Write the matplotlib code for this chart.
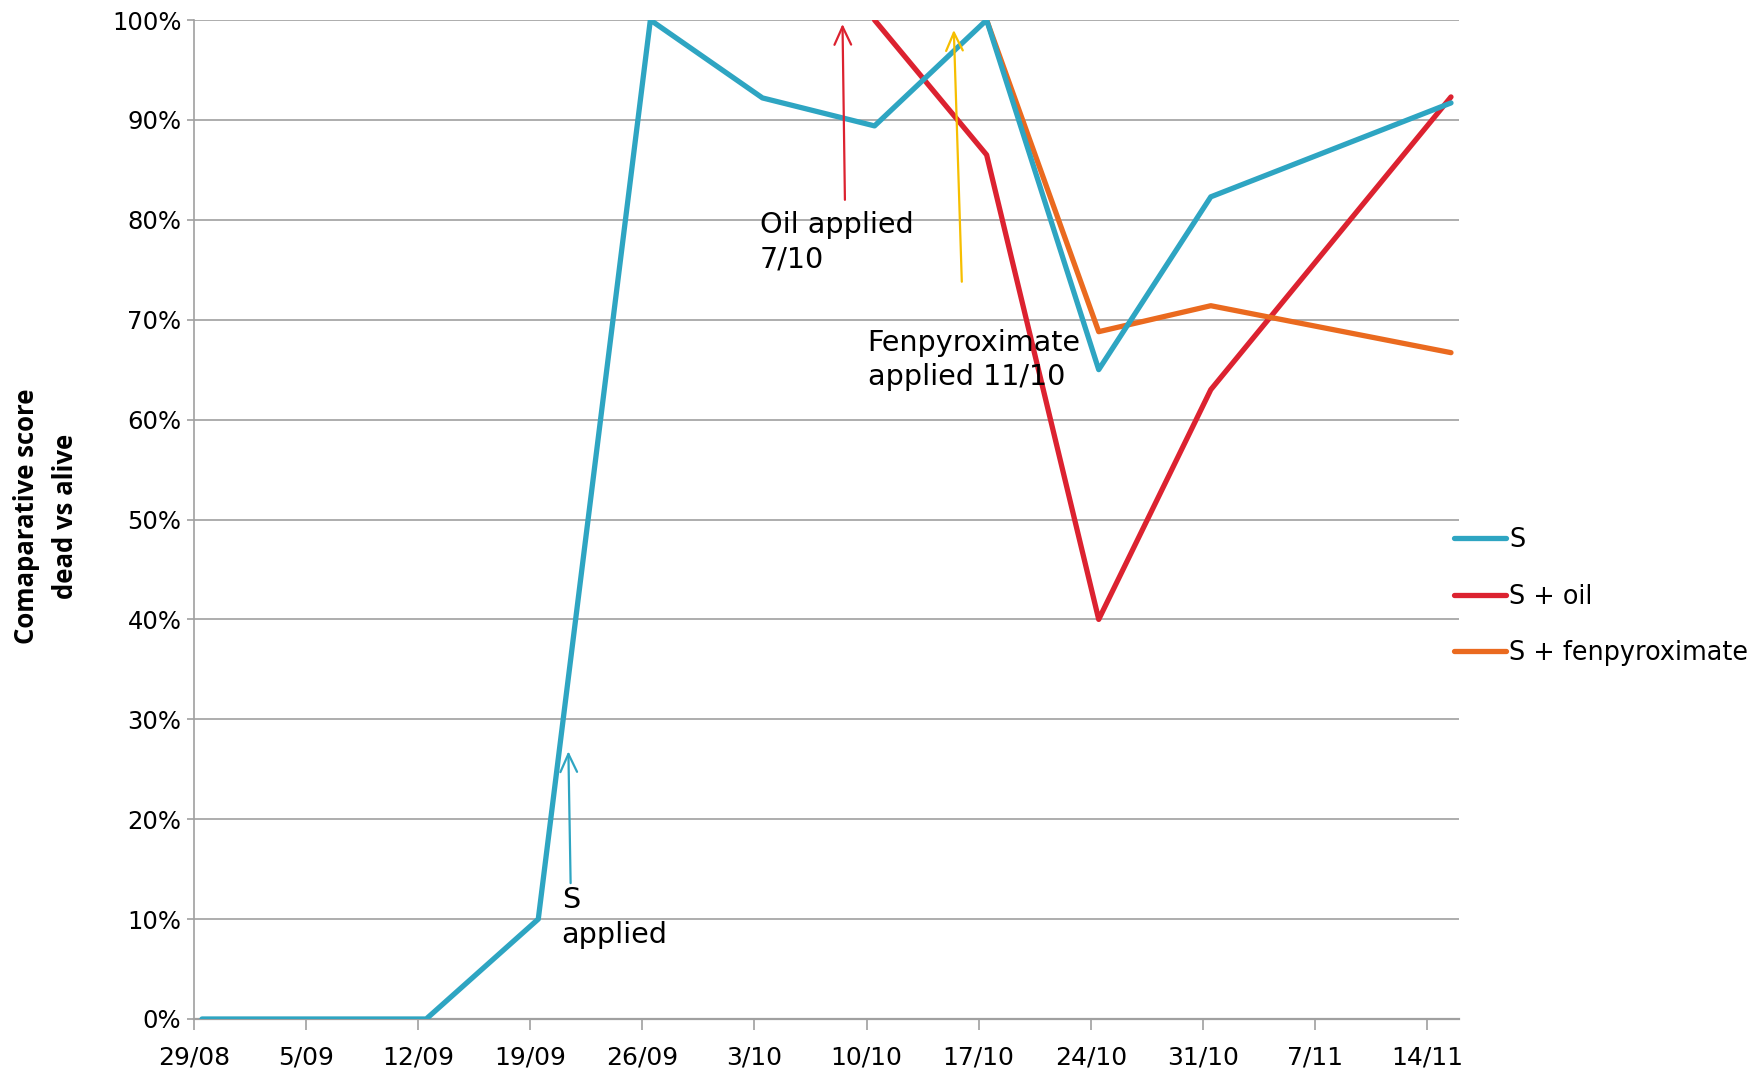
import matplotlib
matplotlib.use("Agg")
import matplotlib.pyplot as plt
import matplotlib.dates as mdates
import pandas as pd
from matplotlib.ticker import FuncFormatter, MultipleLocator

# ---- data ----
s_dates = ["2013-08-29", "2013-09-12", "2013-09-19", "2013-09-26", "2013-10-03",
           "2013-10-10", "2013-10-17", "2013-10-24", "2013-10-31", "2013-11-15"]
s_values = [0, 0, 10, 100, 92.2, 89.4, 100, 65.0, 82.3, 91.7]

oil_dates = ["2013-10-10", "2013-10-17", "2013-10-24", "2013-10-31", "2013-11-15"]
oil_values = [100, 86.5, 40.0, 63.0, 92.3]

fen_dates = ["2013-10-17", "2013-10-24", "2013-10-31", "2013-11-15"]
fen_values = [100, 68.8, 71.4, 66.7]

tick_dates = ["2013-08-29", "2013-09-05", "2013-09-12", "2013-09-19", "2013-09-26",
              "2013-10-03", "2013-10-10", "2013-10-17", "2013-10-24", "2013-10-31",
              "2013-11-07", "2013-11-14"]
tick_labels = ["29/08", "5/09", "12/09", "19/09", "26/09", "3/10", "10/10",
               "17/10", "24/10", "31/10", "7/11", "14/11"]
series_names = ["S", "S + oil", "S + fenpyroximate"]

C_S = "#2EA5C2"
C_OIL = "#DC2230"
C_FEN = "#EA6A1F"
C_YEL = "#F6BE00"

half_day = pd.Timedelta(hours=12)
start = pd.Timestamp("2013-08-29")

fig = plt.figure(figsize=(17.58, 10.77), dpi=100)
ax = fig.add_axes([194 / 1758, 1 - 1019 / 1077, (1459 - 194) / 1758, (1019 - 20) / 1077])

lw = 3.8
ax.plot(pd.to_datetime(s_dates) + half_day, s_values, color=C_S, lw=lw, label=series_names[0],
        solid_capstyle="round", zorder=4)
ax.plot(pd.to_datetime(oil_dates) + half_day, oil_values, color=C_OIL, lw=lw, label=series_names[1],
        solid_capstyle="round", zorder=3)
ax.plot(pd.to_datetime(fen_dates) + half_day, fen_values, color=C_FEN, lw=lw, label=series_names[2],
        solid_capstyle="round", zorder=3)

ax.set_xlim(mdates.date2num(start), mdates.date2num(pd.Timestamp("2013-11-16")))
ax.set_ylim(0, 100)

ax.set_xticks(mdates.date2num(pd.to_datetime(tick_dates)))
ax.set_xticklabels(tick_labels)
ax.yaxis.set_major_locator(MultipleLocator(10))
ax.yaxis.set_major_formatter(FuncFormatter(lambda v, p: f"{int(round(v))}%"))

grid_c = "#A0A0A0"
ax.grid(axis="y", color=grid_c, lw=1.2, zorder=0)
ax.set_axisbelow(True)
for sp in ["top", "right"]:
    ax.spines[sp].set_visible(False)
ax.spines["left"].set_color(grid_c)
ax.spines["bottom"].set_color(grid_c)
ax.spines["left"].set_linewidth(1.2)
ax.spines["bottom"].set_linewidth(1.6)
ax.tick_params(axis="x", direction="out", length=8, width=1.2, color=grid_c, pad=11,
               labelsize=18)
ax.tick_params(axis="y", direction="out", length=5, width=1.2, color=grid_c, pad=4,
               labelsize=17.5)
for lab in ax.get_xticklabels() + ax.get_yticklabels():
    lab.set_fontfamily("DejaVu Sans")


def d(days):
    return mdates.date2num(start + pd.Timedelta(days=days))


arrow_kw = dict(arrowstyle="->,head_length=1.3,head_width=0.6", lw=1.6, shrinkA=0, shrinkB=0)
# annotations: arrows
ax.annotate("", xy=(d(40.5), 99.6), xytext=(d(40.65), 82.0),
            arrowprops=dict(color=C_OIL, **arrow_kw), zorder=5)
ax.annotate("", xy=(d(47.45), 99.0), xytext=(d(47.95), 73.8),
            arrowprops=dict(color=C_YEL, **arrow_kw), zorder=5)
ax.annotate("", xy=(d(23.38), 26.8), xytext=(d(23.52), 13.6),
            arrowprops=dict(color=C_S, **arrow_kw), zorder=5)

txt_kw = dict(fontsize=20.6, family="DejaVu Sans", va="top", ha="left", linespacing=1.3, zorder=6)
ax.text(d(35.35), 80.9, "Oil applied\n7/10", **txt_kw)
ax.text(d(42.07), 69.1, "Fenpyroximate\napplied 11/10", **txt_kw)
ax.text(d(22.96), 13.3, "S\napplied", **txt_kw)

fig.text(46 / 1758, 1 - 516 / 1077, "Comaparative score\ndead vs alive", rotation=90,
         ha="center", va="center", multialignment="center", fontsize=18.5,
         fontweight="bold", family="Open Sans", linespacing=1.55)

leg = fig.legend(loc="upper left", bbox_to_anchor=(1454 / 1758, 1 - 527 / 1077),
                 frameon=False, handlelength=2.05, handletextpad=0.12,
                 labelspacing=1.2, borderpad=0, borderaxespad=0,
                 prop={"family": "DejaVu Sans", "size": 18.4})

fig.savefig("out.png", dpi=100, facecolor="white")
